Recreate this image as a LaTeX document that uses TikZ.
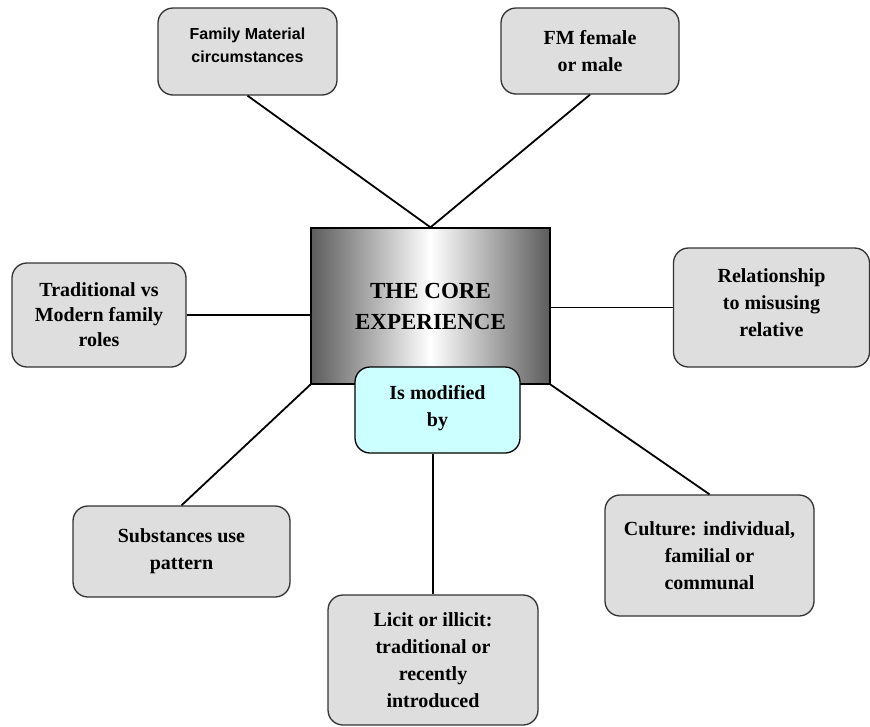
\documentclass[tikz,border=0pt]{standalone}
\usepackage{fontspec}
\setmainfont{Liberation Serif}[BoldFont={Liberation Serif Bold}]
\newfontfamily\arialfont{Liberation Sans}[BoldFont={Liberation Sans Bold}]
\usepackage{tikz}
\usetikzlibrary{positioning}
\definecolor{boxgray}{HTML}{DEDEDE}
\definecolor{boxedge}{HTML}{333333}
\definecolor{coregray}{HTML}{5C5C5C}
\definecolor{modcyan}{HTML}{CCFFFF}
\tikzset{
  factor/.style={draw=boxedge, line width=1.3pt, fill=boxgray, rounded corners=15pt,
    align=center, font=\rmfamily\bfseries\fontsize{20}{27}\selectfont, inner sep=0pt},
  link/.style={line width=1.8pt, black}
}

\begin{document}
\begin{tikzpicture}[x=1pt,y=-1pt]
  \useasboundingbox (0,0) rectangle (870,726);
      \draw (430.5,306) node[draw=black, line width=1.3pt, minimum width=239pt, minimum height=156pt,
        left color=coregray, right color=coregray, middle color=white, align=center,
        font=\rmfamily\bfseries\fontsize{23}{31}\selectfont, inner sep=0pt] (core) {THE CORE\\EXPERIENCE};
  \draw (437.5,410) node[factor, fill=modcyan, draw=black, minimum width=165pt, minimum height=86pt] (modified) {Is modified\\by\\[-19pt]};

      \draw (247.5,51.5) node[factor, minimum width=179pt, minimum height=87pt,
        font=\arialfont\bfseries\fontsize{16}{23}\selectfont] (material) {Family Material\\circumstances\\[-10pt]};
  \draw (590,51) node[factor, minimum width=178pt, minimum height=86pt] (gender) {FM female\\or male};
      \draw (99,315) node[factor, minimum width=174pt, minimum height=104pt,
        font=\rmfamily\bfseries\fontsize{20}{25}\selectfont] (roles) {Traditional vs\\Modern family\\roles};
  \draw (771.5,307.5) node[factor, minimum width=196pt, minimum height=119pt] (relative) {Relationship\\to misusing\\relative\\[-17pt]};
      \draw (181.5,551.5) node[factor, minimum width=217pt, minimum height=91pt] (pattern) {Substances use\\pattern};
  \draw (709.5,555.5) node[factor, minimum width=209pt, minimum height=121pt] (culture) {Culture: individual,\\familial or\\communal};
      \draw (433,660) node[factor, minimum width=210pt, minimum height=130pt] (licit) {Licit or illicit:\\traditional or\\recently\\introduced};

      \path[-,link] (material.south) edge (core.north);
  \path[-,link] (gender.south) edge (core.north);
      \path[-,link] (roles.east) edge (roles.east -| core.west);
  \path[-,link] (core.east |- relative.west) edge (relative.west);
      \path[-,link] (pattern.north) edge (core.south west);
  \path[-,link] (core.south east) edge (culture.north);
      \path[-,link] (licit.north |- modified.south) edge (licit.north);
\end{tikzpicture}
\end{document}
